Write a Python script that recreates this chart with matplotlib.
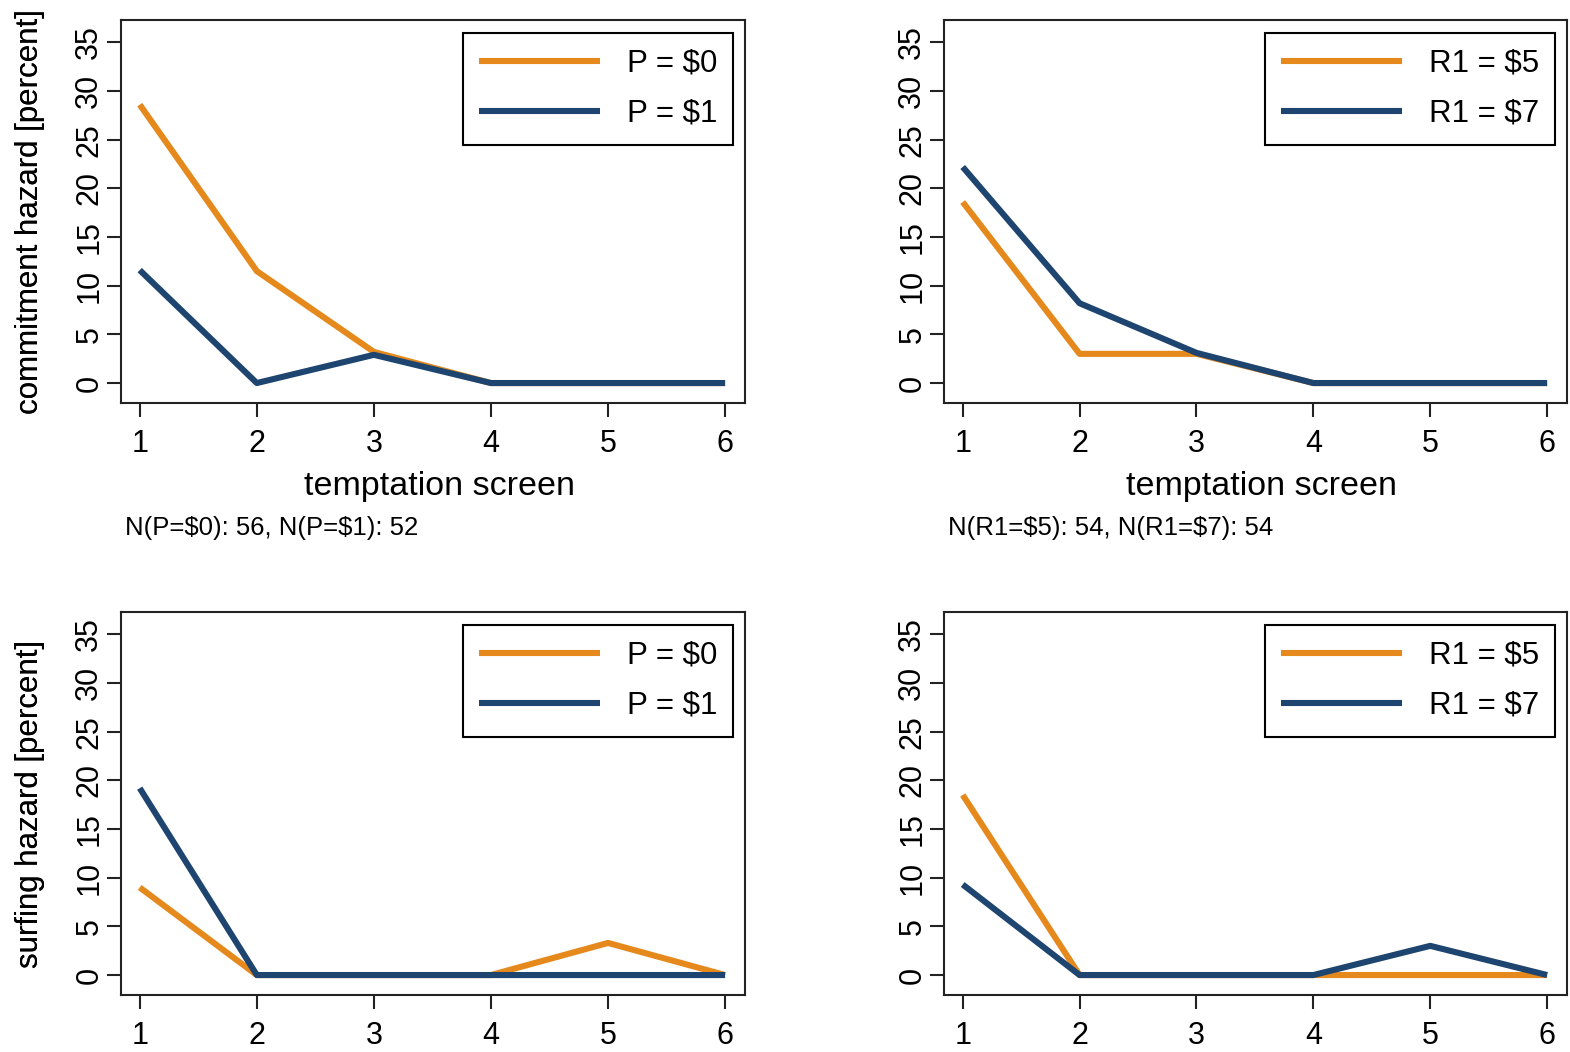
import matplotlib
matplotlib.use("Agg")
import matplotlib.pyplot as plt

plt.rcParams["font.family"] = ["Liberation Sans", "DejaVu Sans"]

screens = [1, 2, 3, 4, 5, 6]

commit_p0 = [28.6, 11.5, 3.2, 0, 0, 0]
commit_p1 = [11.6, 0, 2.9, 0, 0, 0]
commit_r5 = [18.6, 3.0, 3.0, 0, 0, 0]
commit_r7 = [22.2, 8.2, 3.1, 0, 0, 0]

surf_p0 = [9.0, 0, 0, 0, 3.3, 0]
surf_p1 = [19.2, 0, 0, 0, 0, 0]
surf_r5 = [18.5, 0, 0, 0, 0, 0]
surf_r7 = [9.3, 0, 0, 0, 3.0, 0]

labels_p = ["P = $0", "P = $1"]
labels_r = ["R1 = $5", "R1 = $7"]
yticks = [0, 5, 10, 15, 20, 25, 30, 35]

orange = "#E5891C"
blue = "#1E4470"

W, H = 1570, 1052
fig = plt.figure(figsize=(W / 100, H / 100), dpi=100)


def panel(left, right, top, bottom, s1, s2, labels, ylabel, xlabel=None, note=None):
    ax = fig.add_axes([left / W, 1 - bottom / H, (right - left) / W, (bottom - top) / H])
    ax.plot(screens, s1, color=orange, lw=4.4, solid_capstyle="butt", label=labels[0])
    ax.plot(screens, s2, color=blue, lw=4.4, solid_capstyle="butt", label=labels[1])
    ax.set_xlim(0.84, 6.17)
    ax.set_ylim(-2.05, 37.3)
    ax.set_xticks(screens)
    ax.set_yticks(yticks)
    ax.tick_params(axis="both", length=10, width=1.5, color="#222222",
                   labelsize=22, direction="out")
    ax.tick_params(axis="x", pad=9)
    ax.tick_params(axis="y", pad=2)
    for lab in ax.get_yticklabels():
        lab.set_rotation(90)
        lab.set_va("center")
    for sp in ax.spines.values():
        sp.set_linewidth(1.5)
        sp.set_color("#222222")
    ax.text((30 - left) / (right - left), 0.5, ylabel, transform=ax.transAxes,
            rotation=90, ha="center", va="center", fontsize=22.5)
    if xlabel:
        fig.text((left + 318) / W, 1 - 487 / H, xlabel, ha="center", va="center", fontsize=24.5)
    if note:
        fig.text((left + 4) / W, 1 - 528 / H, note, ha="left", va="center", fontsize=18.5)
    leg = ax.legend(loc="upper right",
                    bbox_to_anchor=(1 - 12 / (right - left), 1 - 13 / (bottom - top)),
                    borderaxespad=0, fancybox=False, edgecolor="black", framealpha=1,
                    handlelength=3.86, handletextpad=0.88, labelspacing=0.65,
                    borderpad=0.5, fontsize=22.5)
    leg.get_frame().set_linewidth(1.5)
    return ax


panel(121, 745, 20, 403, commit_p0, commit_p1, labels_p,
      "commitment hazard [percent]", "temptation screen", "N(P=\\$0): 56, N(P=\\$1): 52")
panel(944, 1567, 20, 403, commit_r5, commit_r7, labels_r,
      "commitment hazard [percent]", "temptation screen", "N(R1=\\$5): 54, N(R1=\\$7): 54")
panel(121, 745, 612, 995, surf_p0, surf_p1, labels_p, "surfing hazard [percent]")
panel(944, 1567, 612, 995, surf_r5, surf_r7, labels_r, "surfing hazard [percent]")

fig.savefig("out.png", dpi=100)
